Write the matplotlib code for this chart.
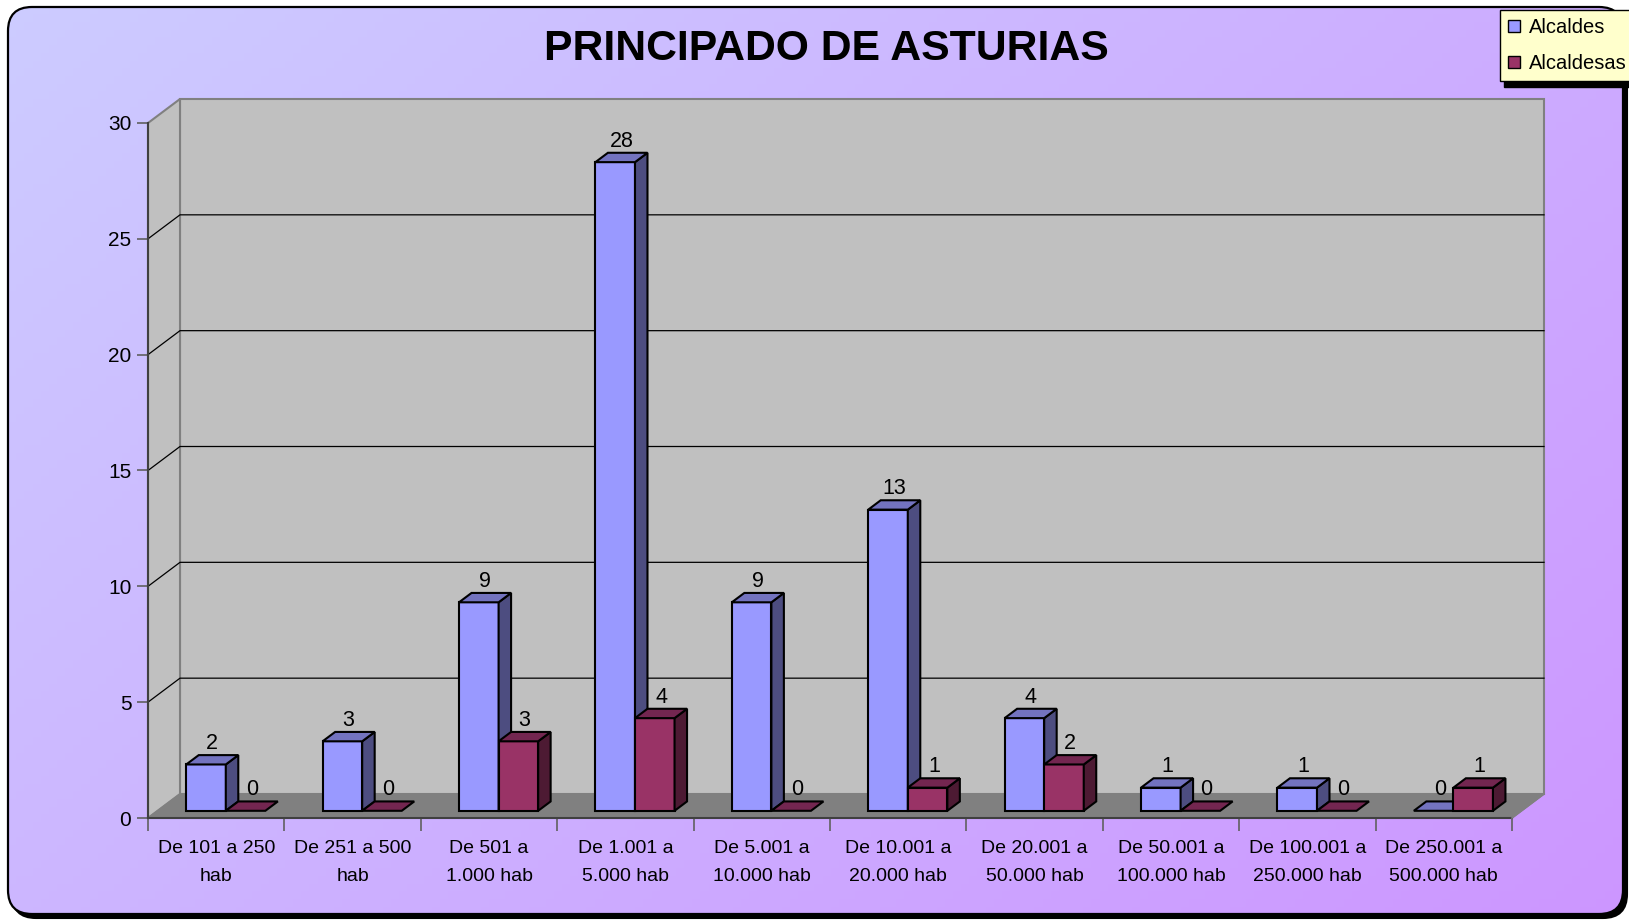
import numpy as np
import matplotlib
matplotlib.use('Agg')
import matplotlib.pyplot as plt
import matplotlib.patches as patches

plt.rcParams['font.family'] = ['Liberation Sans', 'DejaVu Sans']

categorias = ['De 101 a 250\nhab', 'De 251 a 500\nhab', 'De 501 a\n1.000 hab',
              'De 1.001 a\n5.000 hab', 'De 5.001 a\n10.000 hab', 'De 10.001 a\n20.000 hab',
              'De 20.001 a\n50.000 hab', 'De 50.001 a\n100.000 hab', 'De 100.001 a\n250.000 hab',
              'De 250.001 a\n500.000 hab']
alcaldes = [2, 3, 9, 28, 9, 13, 4, 1, 1, 0]
alcaldesas = [0, 0, 3, 4, 0, 1, 2, 0, 0, 1]
series = ['Alcaldes', 'Alcaldesas']
titulo = 'PRINCIPADO DE ASTURIAS'

# colores: frente, arriba, lado
col_azul = ('#9999FF', '#7373BF', '#4D4D80')
col_morado = ('#993366', '#732650', '#4D1A33')

W_PX, H_PX = 1629, 922
fig = plt.figure(figsize=(W_PX / 100, H_PX / 100), dpi=100)

# fondo con degradado y marco redondeado
bg = fig.add_axes([0, 0, 1, 1])
bg.set_xlim(0, W_PX)
bg.set_ylim(H_PX, 0)
bg.axis('off')
sombra = patches.FancyBboxPatch((8 + 4, 7 + 4), 1615, 907, boxstyle='round,pad=0,rounding_size=24',
                                fc='black', ec='black', lw=1.5)
bg.add_patch(sombra)
marco = patches.FancyBboxPatch((8, 7), 1615, 907, boxstyle='round,pad=0,rounding_size=24',
                               fc='none', ec='black', lw=1.6, zorder=3)
bg.add_patch(marco)
xx, yy = np.meshgrid(np.linspace(0, 1, 200), np.linspace(0, 1, 120))
t = (xx * 0.6 + yy * 0.4)
c0 = np.array([204, 204, 255]) / 255
c1 = np.array([204, 150, 255]) / 255
img = c0[None, None, :] + (c1 - c0)[None, None, :] * t[:, :, None]
im = bg.imshow(img, extent=(0, W_PX, H_PX, 0), aspect='auto', zorder=2)
clip = patches.FancyBboxPatch((8, 7), 1615, 907, boxstyle='round,pad=0,rounding_size=24',
                              transform=bg.transData, fc='none', ec='none')
bg.add_patch(clip)
im.set_clip_path(clip)

# ejes del plano frontal
x0_px, y0_px, ancho_px, alto_px = 148, 818, 1364, 695
ax = fig.add_axes([x0_px / W_PX, (H_PX - y0_px) / H_PX, ancho_px / W_PX, alto_px / H_PX])
n = len(categorias)
ymax = 30
ax.set_xlim(0, n)
ax.set_ylim(0, ymax)
ax.patch.set_visible(False)
for s in ax.spines.values():
    s.set_visible(False)

ux = ancho_px / n
uy = alto_px / ymax
DX, DY = 32 / ux, 24 / uy          # profundidad total
FX, FY = 0.30 * DX, 0.30 * DY      # frente de las barras
BX, BY = 0.39 * DX, 0.39 * DY      # fondo de las barras

pared = '#C0C0C0'
ax.add_patch(patches.Polygon([(DX, DY), (n + DX, DY), (n + DX, ymax + DY), (DX, ymax + DY)],
                             fc=pared, ec='#808080', lw=1.5, clip_on=False, zorder=1))
ax.add_patch(patches.Polygon([(0, 0), (DX, DY), (DX, ymax + DY), (0, ymax)],
                             fc=pared, ec='#808080', lw=1.5, clip_on=False, zorder=1))
ax.add_patch(patches.Polygon([(0, 0), (n, 0), (n + DX, DY), (DX, DY)],
                             fc='#808080', ec='#808080', lw=1, clip_on=False, zorder=1))
for v in range(5, ymax, 5):
    ax.plot([0, DX, n + DX], [v, v + DY, v + DY], color='black', lw=0.9, clip_on=False, zorder=2)
ax.plot([0, 0], [0, ymax], color='#404040', lw=1.5, clip_on=False, zorder=2)
ax.plot([0, n], [0, 0], color='#404040', lw=1.5, clip_on=False, zorder=2)
ax.plot([n, n + DX], [0, DY], color='#808080', lw=1.2, clip_on=False, zorder=2)

ax.set_yticks(range(0, ymax + 1, 5))
ax.tick_params(axis='y', length=8, width=1.2, color='#606060', labelsize=15, pad=4)
ax.set_xticks(range(0, n + 1))
ax.set_xticklabels([])
ax.set_xticks(np.arange(n) + 0.5, minor=True)
ax.set_xticklabels(categorias, minor=True, fontsize=14, linespacing=1.85)
ax.tick_params(axis='x', which='major', length=9, width=1.2, color='#606060')
ax.tick_params(axis='x', which='minor', length=0, pad=16)

Wb = 0.29
datos = [alcaldes, alcaldesas]
cols = [col_azul, col_morado]
for i in range(n):
    for s in range(2):
        v = datos[s][i]
        fr, tp, sd = cols[s]
        x0 = i + 0.5 - Wb + s * Wb + FX
        z = 3 + i * 2 + s
        if v > 0:
            ax.bar(x0, v, width=Wb, bottom=FY, align='edge', color=fr, edgecolor='black',
                   lw=1.5, clip_on=False, zorder=z)
            ax.add_patch(patches.Polygon([(x0 + Wb, FY), (x0 + Wb + BX, FY + BY),
                                          (x0 + Wb + BX, FY + v + BY), (x0 + Wb, FY + v)],
                                         fc=sd, ec='black', lw=1.5, clip_on=False, zorder=z))
        ax.add_patch(patches.Polygon([(x0, FY + v), (x0 + Wb, FY + v),
                                      (x0 + Wb + BX, FY + v + BY), (x0 + BX, FY + v + BY)],
                                     fc=tp, ec='black', lw=1.5, clip_on=False, zorder=z))
        ax.text(x0 + Wb / 2 + BX / 2, FY + v + BY + 0.05, str(v), ha='center', va='bottom',
                fontsize=15.5, zorder=20)

fig.text(826 / W_PX, 1 - 49 / H_PX, titulo, ha='center', va='center', fontsize=30.8,
         fontweight='bold')

manejadores = [patches.Patch(fc=col_azul[0], ec='black', lw=1),
               patches.Patch(fc=col_morado[0], ec='black', lw=1)]
leg = fig.legend(manejadores, series, loc='upper left', bbox_to_anchor=(1500 / W_PX, 1 - 10 / H_PX),
                 bbox_transform=fig.transFigure, fontsize=14.5, frameon=True, fancybox=False,
                 edgecolor='black', facecolor='#FFFFCC', framealpha=1,
                 shadow={'color': 'black', 'alpha': 1, 'ox': 3, 'oy': -4},
                 handlelength=0.6, handleheight=0.6, handletextpad=0.45, borderpad=0.4,
                 labelspacing=0.85, borderaxespad=0)
leg.get_frame().set_linewidth(1)

fig.savefig('out.png', dpi=100)
